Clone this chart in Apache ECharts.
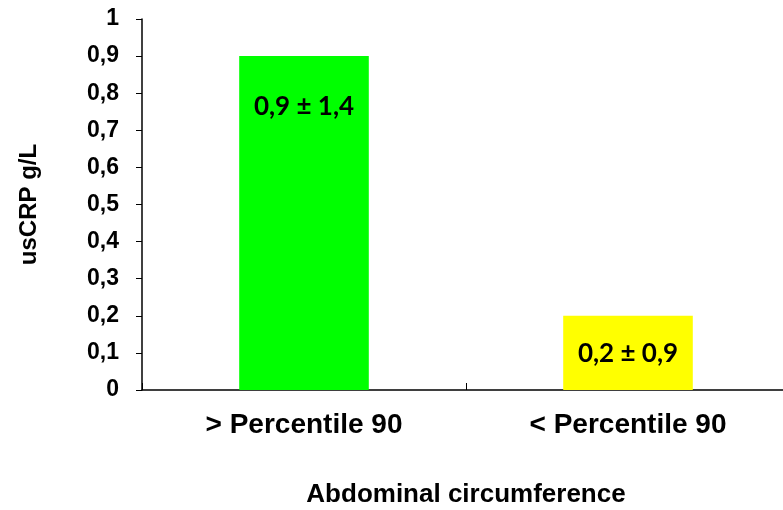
<!DOCTYPE html>
<html>
<head>
<meta charset="utf-8">
<script src="https://cdn.jsdelivr.net/npm/echarts@6/dist/echarts.min.js"></script>
<style>
html,body{margin:0;padding:0;background:#fff;overflow:hidden;width:783px;height:510px;}
#chart{width:790px;height:510px;}
</style>
</head>
<body>
<div id="chart"></div>
<script>
const categories = ['> Percentile 90', '< Percentile 90'];
const values = [0.9, 0.2];
const valueLabels = ['0,9 ± 1,4', '0,2 ± 0,9'];
const barColors = ['#00ff00', '#ffff00'];
const labelDistances = [38, 25];
const yTicks = { min: 0, max: 1, interval: 0.1 };

const chart = echarts.init(document.getElementById('chart'));
const fmt = v => (Math.round(v * 10) / 10).toString().replace('.', ',');
chart.setOption({
  animation: false,
  backgroundColor: '#ffffff',
  grid: { left: 142, top: 19, right: 0, bottom: 120, containLabel: false, outerBoundsMode: 'none' },
  xAxis: {
    type: 'category',
    data: categories,
    boundaryGap: true,
    axisLine: { lineStyle: { color: '#000', width: 1.5 } },
    axisTick: { show: true, inside: true, length: 7, lineStyle: { color: '#000', width: 1 } },
    axisLabel: { color: '#000', fontFamily: 'Liberation Sans', fontWeight: 'bold', fontSize: 28, margin: 21 },
    name: 'Abdominal circumference',
    nameLocation: 'middle',
    nameGap: 92,
    nameTextStyle: { color: '#000', fontFamily: 'Liberation Sans', fontWeight: 'bold', fontSize: 26 }
  },
  yAxis: {
    type: 'value',
    min: yTicks.min, max: yTicks.max, interval: yTicks.interval,
    splitLine: { show: false },
    axisLine: { show: true, lineStyle: { color: '#000', width: 1.5 } },
    axisTick: { show: true, length: 6, lineStyle: { color: '#000', width: 1 } },
    axisLabel: { color: '#000', fontFamily: 'Liberation Sans', fontWeight: 'bold', fontSize: 23, margin: 23, formatter: fmt },
    name: 'usCRP g/L',
    nameLocation: 'middle',
    nameGap: 101,
    nameRotate: 90,
    nameTextStyle: { color: '#000', fontFamily: 'Liberation Sans', fontWeight: 'bold', fontSize: 24 }
  },
  series: [{
    type: 'bar',
    barWidth: '40%',
    data: values.map((v, i) => ({
      value: v,
      itemStyle: { color: barColors[i] },
      label: { distance: labelDistances[i] }
    })),
    label: {
      show: true,
      position: 'insideTop',
      color: '#000',
      fontFamily: 'Lato',
      fontWeight: 'bold',
      fontSize: 26,
      formatter: p => valueLabels[p.dataIndex]
    }
  }]
});
</script>
</body>
</html>
